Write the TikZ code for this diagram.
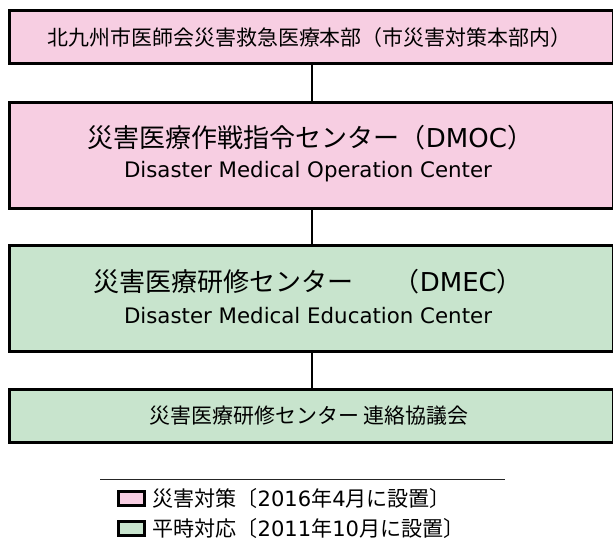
\documentclass[tikz,border=0pt]{standalone}
\usepackage{fontspec}
\setmainfont{Noto Sans CJK JP}
\newfontfamily\latinfont{DejaVu Sans}
\newcommand\latx[1]{{\latinfont #1}}
\definecolor{pinkfill}{RGB}{247,206,226}
\definecolor{greenfill}{RGB}{200,228,205}
\begin{document}
\begin{tikzpicture}[x=0.75pt,y=-0.75pt,
  mainbox/.style={draw=black,line width=2.25pt,minimum width=453.2pt,inner sep=0pt},
  pinkbox/.style={mainbox,fill=pinkfill},
  greenbox/.style={mainbox,fill=greenfill},
  conn/.style={draw=black,line width=1.5pt},
  smalltxt/.style={font=\fontsize{15.7pt}{18pt}\selectfont,inner sep=0pt},
  bigtxt/.style={font=\fontsize{19.5pt}{22pt}\selectfont,inner sep=0pt},
  entxt/.style={font=\latinfont\fontsize{16pt}{19pt}\selectfont,inner sep=0pt},
  keybox/.style={draw=black,line width=2.25pt,minimum width=19.5pt,minimum height=10.5pt,inner sep=0pt},
  legtxt/.style={font=\fontsize{15.8pt}{18pt}\selectfont,inner sep=0pt,anchor=west}
]
\useasboundingbox (0,0) rectangle (613,542);
\fill[white] (0,0) rectangle (613,542);
% boxes
\node[pinkbox,minimum height=39.75pt] (b1) at (311.6,37.5) {};
\node[pinkbox,minimum height=79.2pt] (b2) at (311.6,155.5) {};
\node[greenbox,minimum height=79.3pt] (b3) at (311.6,298.85) {};
\node[greenbox,minimum height=40pt] (b4) at (311.6,416) {};
% connectors
\path[conn] (b1.south) -- (b2.north);
\path[conn] (b2.south) -- (b3.north);
\path[conn] (b3.south) -- (b4.north);
% texts
\node[smalltxt] (t1) at (309.5,38) {北九州市医師会災害救急医療本部（市災害対策本部内）};
\node[bigtxt] (t2a) at (310.5,138) {災害医療作戦指令センター（\latx{DMOC}）};
\node[entxt] (t2b) at (308,172) {Disaster Medical Operation Center};
\node[bigtxt] (t3a) at (308,282) {災害医療研修センター　\hspace{11pt}（\latx{DMEC}）};
\node[entxt] (t3b) at (308,316) {Disaster Medical Education Center};
\node[smalltxt] (t4) at (309,416) {災害医療研修センター 連絡協議会};
% legend
\coordinate (lgl) at (100,479.7);
\coordinate (lgr) at (505,479.7);
\draw[line width=0.75pt,black!85] (lgl) -- (lgr);
\node[keybox,fill=pinkfill] (k1) at (131.5,498.5) {};
\node[keybox,fill=greenfill] (k2) at (131.5,528) {};
\node[legtxt] (l1) at (152,498.5) {災害対策〔\latx{2016}年\latx{4}月に設置〕};
\node[legtxt] (l2) at (152,528) {平時対応〔\latx{2011}年\latx{10}月に設置〕};
\end{tikzpicture}
\end{document}
